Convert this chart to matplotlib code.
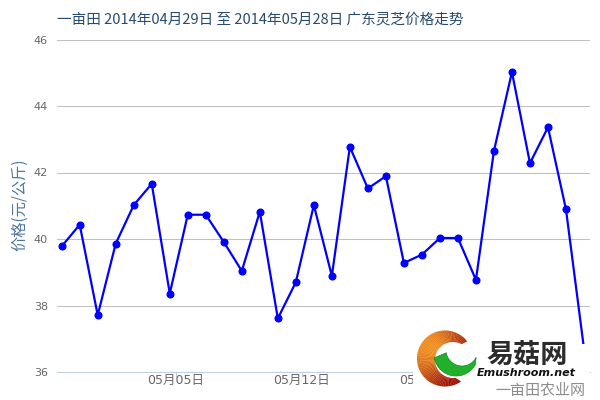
import matplotlib
matplotlib.use("Agg")
import matplotlib.pyplot as plt
import numpy as np
from matplotlib.patches import Polygon, Rectangle
from matplotlib.colors import to_rgb

# Daily Guangdong lingzhi prices, 2014-04-29 .. 2014-05-28 (yuan / kg)
dates = ["04-29", "04-30"] + ["05-%02d" % d for d in range(1, 29)]
prices = [39.78, 40.43, 37.71, 39.86, 41.02, 41.66, 38.36, 40.73, 40.73, 39.91,
          39.04, 40.82, 37.61, 38.70, 41.02, 38.89, 42.77, 41.52, 41.89, 39.28,
          39.53, 40.03, 40.03, 38.77, 42.65, 45.02, 42.28, 43.36, 40.89, 36.70]
tick_dates = ["05-05", "05-12", "05-19", "05-26"]
tick_labels = ["05月05日", "05月12日", "05月19日", "05月26日"]
y_ticks = [36, 38, 40, 42, 44, 46]

title = "一亩田 2014年04月29日 至 2014年05月28日 广东灵芝价格走势"
y_title = "价格(元/公斤)"

CJK = "Noto Sans CJK SC"

fig = plt.figure(figsize=(6, 4), dpi=100)
fig.patch.set_facecolor("white")

W, H = 600.0, 400.0
left_px, right_px, top_px, bottom_px = 57, 590, 39.5, 372
ax = fig.add_axes([left_px / W, 1 - bottom_px / H,
                   (right_px - left_px) / W, (bottom_px - top_px) / H])

x = np.arange(len(dates))
ax.plot(x, prices, color="#0000ff", lw=1.6, marker="o", ms=4.8,
        mfc="#0000ff", mec="#0000ff", clip_on=False, zorder=3)

step = 18.01
ax.set_xlim((left_px - 61.7) / step, (right_px - 61.7) / step)
ax.set_ylim(36, 46)
ax.set_yticks(y_ticks)
ax.set_yticklabels([str(v) for v in y_ticks])

# ticks fall at UTC midnight, 8 hours after each local-date point
tick_pos = [dates.index(d) + 8 / 24 for d in tick_dates]
ax.set_xticks(tick_pos)
ax.set_xticklabels(tick_labels, family=["DejaVu Sans", CJK])

ax.yaxis.grid(True, color="#C0C0C0", lw=0.75)
ax.set_axisbelow(True)
for s in ["left", "right", "top"]:
    ax.spines[s].set_visible(False)
ax.spines["bottom"].set_color("#C0D0E0")
ax.spines["bottom"].set_linewidth(0.8)
ax.tick_params(axis="y", length=0, pad=6.5, labelsize=8, labelcolor="#666666")
ax.tick_params(axis="x", length=3.6, width=0.7, color="#C0D0E0", direction="out",
               pad=-2.0, labelsize=9, labelcolor="#666666")

fig.text(260 / W, 1 - 20 / H, title, ha="center", va="center",
         fontsize=10.5, color="#274b6d", family=CJK)
fig.text(19.5 / W, 1 - 205 / H, y_title, ha="center", va="center",
         rotation=90, fontsize=11, color="#4d759e", family=CJK)

# --- watermark logo in the lower right corner (pixel coordinates) ---
ov = fig.add_axes([0, 0, 1, 1], zorder=10)
ov.set_xlim(0, W)
ov.set_ylim(H, 0)
ov.axis("off")
ov.patch.set_alpha(0)

ov.add_patch(Rectangle((413, 344), 177, 56, fc="white", ec="none"))

# red/orange crescent, shaded from bright orange (upper left) to dark red
c_out, r_out = (445.0, 358.5), 28.0
c_in, r_in = (453.0, 360.0), 18.0
orange, dark_red = np.array(to_rgb("#ee8e20")), np.array(to_rgb("#960e04"))
n = 70
a_out = np.linspace(55, 322, n)
a_in = np.linspace(82, 298, n)
for i in range(n - 1):
    to = np.radians(np.linspace(a_out[i], a_out[i + 1] + 0.5, 3))
    ti = np.radians(np.linspace(a_in[i + 1] + 0.5, a_in[i], 3))
    outer = np.c_[c_out[0] + r_out * np.cos(to), c_out[1] + r_out * np.sin(to)]
    inner = np.c_[c_in[0] + r_in * np.cos(ti), c_in[1] + r_in * np.sin(ti)]
    mid = np.radians((a_out[i] + a_out[i + 1]) / 2)
    t = (1 + np.cos(mid - np.radians(215))) / 2
    col = dark_red + (orange - dark_red) * t ** 1.4
    ov.add_patch(Polygon(np.vstack([outer, inner]), closed=True, fc=col, ec="none"))

# green swoosh inside the crescent
g_out, gr_out = (456.0, 354.0), 22.0
g_in, gr_in = (462.0, 350.0), 16.0
th = np.radians(np.linspace(28, 170, 50))
outer = np.c_[g_out[0] + gr_out * np.cos(th), g_out[1] + gr_out * np.sin(th)]
th2 = np.radians(np.linspace(170, 28, 50))
inner = np.c_[g_in[0] + gr_in * np.cos(th2), g_in[1] + gr_in * np.sin(th2)]
ov.add_patch(Polygon(np.vstack([outer, inner]), closed=True, fc="#22b02c",
                     ec="#0e8c1c", lw=0.5))

ov.text(527, 355, "易菇网", ha="center", va="center", fontsize=19.5,
        color="#2b2b2b", family=CJK, weight="black")
ov.text(526.5, 373.5, "Emushroom.net", ha="center", va="center", fontsize=8,
        color="#111111", family="DejaVu Sans", weight="bold", style="italic")
ov.text(540, 391.5, "一亩田农业网", ha="center", va="center", fontsize=10.8,
        color="#8c8c8c", family=CJK, weight="light")

fig.savefig("out.png", dpi=100, facecolor="white")
